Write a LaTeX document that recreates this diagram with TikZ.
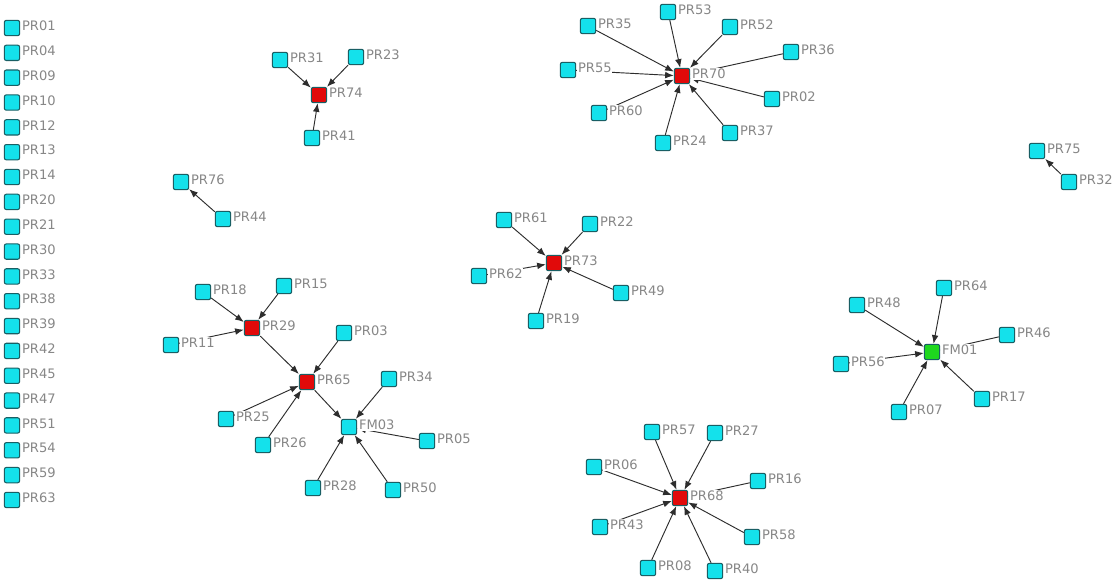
\documentclass[tikz,border=0pt]{standalone}
\usepackage{fontspec}
\setmainfont{DejaVu Sans}
\usetikzlibrary{arrows.meta}
\pgfdeclarelayer{background}
\pgfsetlayers{background,main}
\definecolor{cy}{RGB}{20,225,235}
\definecolor{bd}{RGB}{25,95,100}
\definecolor{rd}{RGB}{225,10,10}
\definecolor{gr}{RGB}{30,215,30}
\definecolor{lb}{RGB}{135,135,135}
\definecolor{ed}{RGB}{45,45,45}
\tikzset{
 sq/.style={rectangle, draw=bd, line width=0.8pt, rounded corners=1.5pt, minimum size=11.5pt, inner sep=0pt},
 pr/.style={sq, fill=cy},
 hub/.style={sq, fill=rd},
 hubg/.style={sq, fill=gr},
 lbl/.style={fill=white, inner sep=0.6pt, text=lb, font=\fontsize{9.8}{12}\selectfont, yshift=1.5pt},
 ar/.style={draw=ed, line width=0.7pt, -{Latex[length=6.5pt,width=5pt]}},
}
\newcommand\nd[4][pr]{\node[#1, label={[lbl, label distance=0.6pt]right:#2}] (#2) at (#3,#4) {};}
\begin{document}
\begin{tikzpicture}[x=0.75pt,y=-0.75pt]
\useasboundingbox (0,0) rectangle (1117,585);
\begin{pgfonlayer}{background}
\fill[white] (0,0) rectangle (1117,585);
\end{pgfonlayer}
% isolated column
\foreach \n [count=\i from 0] in {01,04,09,10,12,13,14,20,21,30,33,38,39,42,45,47,51,54,59,63}
  {\node[pr, label={[lbl, label distance=0.6pt]right:PR\n}] (PR\n) at (12,{28+24.84*\i}) {};}
% PR74 group
\nd[hub]{PR74}{319}{95}
\nd{PR31}{280}{60}
\nd{PR23}{356}{57}
\nd{PR41}{312}{138}
\nd{PR76}{181}{182}
\nd{PR44}{223}{219}
% PR29 / PR65 / FM03
\nd{PR18}{203}{292}
\nd{PR15}{284}{286}
\nd[hub]{PR29}{252}{328}
\nd{PR11}{171}{345}
\nd{PR03}{344}{333}
\nd[hub]{PR65}{307}{382}
\nd{PR34}{389}{379}
\nd{PR25}{226}{419}
\nd{FM03}{349}{427}
\nd{PR05}{427}{441}
\nd{PR26}{263}{445}
\nd{PR28}{313}{488}
\nd{PR50}{393}{490}
% PR73
\nd{PR61}{504}{220}
\nd{PR22}{590}{224}
\nd[hub]{PR73}{554}{263}
\nd{PR62}{479}{276}
\nd{PR49}{621}{293}
\nd{PR19}{536}{321}
% PR70
\nd{PR35}{588}{26}
\nd{PR53}{668}{12}
\nd{PR52}{730}{27}
\nd{PR36}{791}{52}
\nd{PR55}{568}{70}
\nd[hub]{PR70}{682}{76}
\nd{PR02}{772}{99}
\nd{PR60}{599}{113}
\nd{PR24}{663}{143}
\nd{PR37}{730}{133}
% PR68
\nd{PR57}{652}{432}
\nd{PR27}{715}{433}
\nd{PR06}{594}{467}
\nd{PR16}{758}{481}
\nd[hub]{PR68}{680}{498}
\nd{PR43}{600}{527}
\nd{PR58}{752}{537}
\nd{PR08}{648}{568}
\nd{PR40}{715}{571}
% right
\nd{PR75}{1037}{151}
\nd{PR32}{1069}{182}
\nd{PR64}{944}{288}
\nd{PR48}{857}{305}
\nd{PR46}{1007}{335}
\nd[hubg]{FM01}{932}{352}
\nd{PR56}{841}{364}
\nd{PR17}{982}{399}
\nd{PR07}{899}{412}
\begin{pgfonlayer}{background}
\foreach \s/\t in {PR31/PR74,PR23/PR74,PR41/PR74,PR44/PR76,
  PR18/PR29,PR15/PR29,PR11/PR29,PR29/PR65,PR03/PR65,PR25/PR65,PR26/PR65,
  PR65/FM03,PR34/FM03,PR05/FM03,PR28/FM03,PR50/FM03,
  PR61/PR73,PR22/PR73,PR62/PR73,PR49/PR73,PR19/PR73,
  PR35/PR70,PR53/PR70,PR52/PR70,PR36/PR70,PR55/PR70,PR02/PR70,PR60/PR70,PR24/PR70,PR37/PR70,
  PR57/PR68,PR27/PR68,PR06/PR68,PR16/PR68,PR43/PR68,PR58/PR68,PR08/PR68,PR40/PR68,
  PR32/PR75,
  PR64/FM01,PR48/FM01,PR46/FM01,PR56/FM01,PR17/FM01,PR07/FM01}
  {\draw[ar] (\s) -- (\t);}
\end{pgfonlayer}
\end{tikzpicture}
\end{document}
